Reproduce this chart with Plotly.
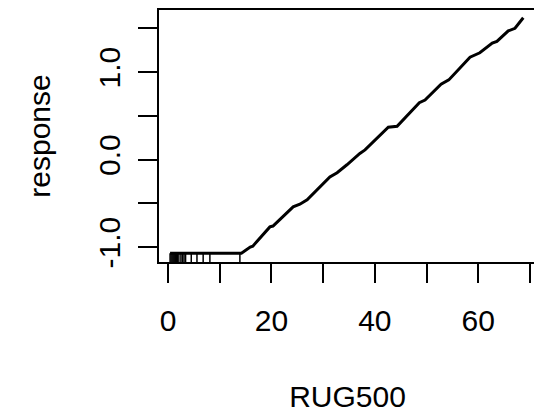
import plotly.graph_objects as go

# Partial dependence curve
rug500 = [0.4, 14.2, 15.9, 16.4, 19.7, 20.3, 24.2, 25.5, 26.9, 31.3, 32.7, 34.6,
          37.1, 38.1, 42.6, 44.3, 48.6, 49.7, 52.8, 54.3, 58.4, 60.3, 62.7,
          63.6, 65.8, 67.1, 68.7]
response = [-1.07, -1.07, -1.00, -0.99, -0.77, -0.76, -0.54, -0.51, -0.46, -0.20,
            -0.15, -0.06, 0.07, 0.11, 0.37, 0.38, 0.65, 0.68, 0.86, 0.91, 1.17,
            1.22, 1.33, 1.35, 1.47, 1.50, 1.62]

# Rug (observed RUG500 values, deciles)
rug_values = [0.4, 0.6, 0.8, 1.0, 1.2, 1.4, 1.6, 1.8, 2.1, 2.5, 2.8, 3.1, 3.4,
              4.5, 5.6, 6.8, 8.1, 13.9]

x_ticks = [0, 10, 20, 30, 40, 50, 60, 70]
x_ticktext = ["0", "", "20", "", "40", "", "60", ""]
y_ticks = [-1.0, -0.5, 0.0, 0.5, 1.0, 1.5]
y_ticktext = ["-1.0", "", "0.0", "", "1.0", ""]

FONT = "Liberation Sans, Arial, Helvetica, sans-serif"

fig = go.Figure()
fig.add_trace(go.Scatter(x=rug500, y=response, mode="lines",
                         line=dict(color="black", width=3), showlegend=False,
                         hoverinfo="skip"))

for v in rug_values:
    fig.add_shape(type="line", xref="x", yref="y domain", x0=v, x1=v, y0=0, y1=0.035,
                  line=dict(color="black", width=1.5))

# page body has an 8px margin, so the figure is sized/positioned to compensate
fig.update_layout(
    width=534, height=410,
    margin=dict(l=151, r=6, t=2, b=156),
    paper_bgcolor="white", plot_bgcolor="white",
    font=dict(family=FONT, size=30, color="black"),
    showlegend=False,
)
fig.update_xaxes(range=[-1.74, 71.16], tickvals=x_ticks, ticktext=x_ticktext,
                 ticks="outside", ticklen=19, tickwidth=2, tickcolor="black",
                 showline=True, linewidth=2, linecolor="black", mirror=True,
                 showgrid=False, zeroline=False, automargin=False,
                 ticklabelstandoff=12,
                 title=dict(text="RUG500", standoff=50, font=dict(size=30)))
fig.update_yaxes(range=[-1.171, 1.709], tickvals=y_ticks, ticktext=y_ticktext,
                 ticks="outside", ticklen=19, tickwidth=2, tickcolor="black",
                 tickangle=-90,
                 showline=True, linewidth=2, linecolor="black", mirror=True,
                 showgrid=False, zeroline=False, automargin=False,
                 ticklabelstandoff=6,
                 title=dict(text="response", standoff=34, font=dict(size=30)))

fig.write_html("out.html")
